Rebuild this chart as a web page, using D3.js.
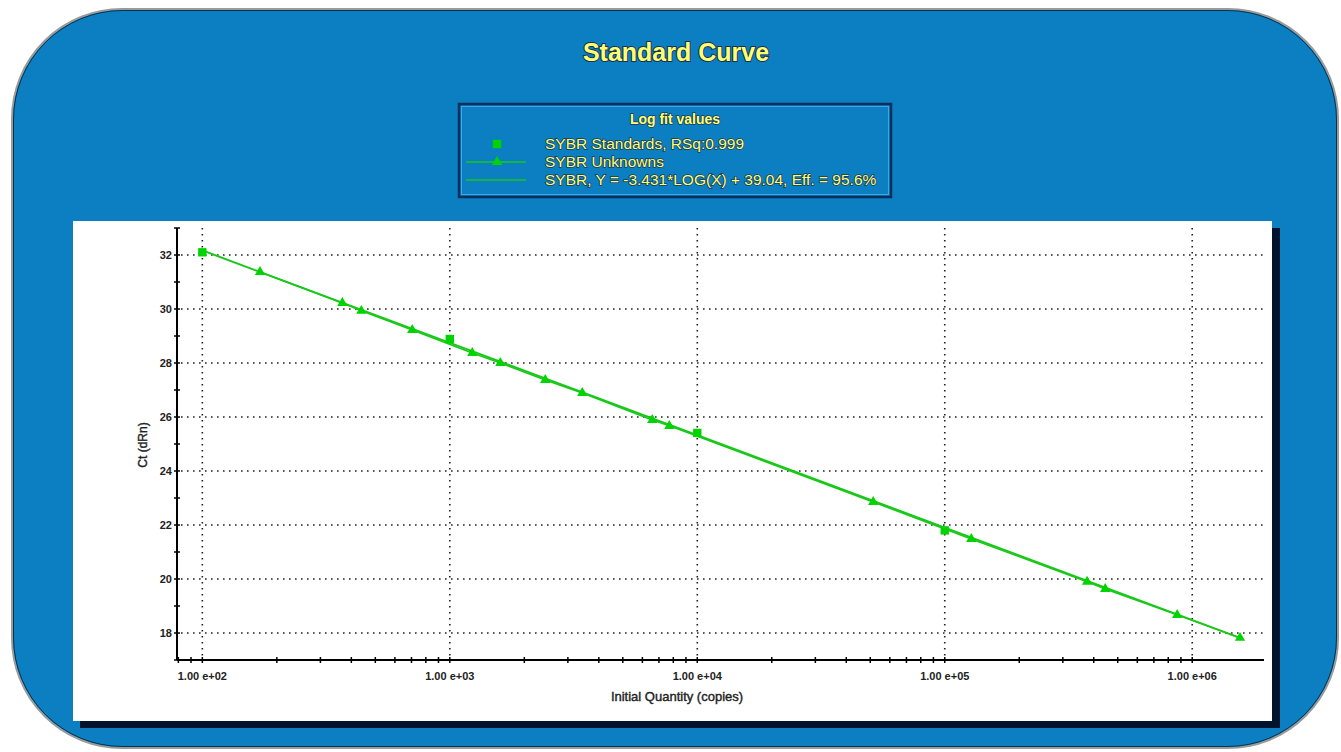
<!DOCTYPE html>
<html>
<head>
<meta charset="utf-8">
<script src="https://cdn.jsdelivr.net/npm/d3@7"></script>
<style>
  body { margin: 0; background: #ffffff; }
  svg { display: block; font-family: "Liberation Sans", Arial, sans-serif; }
</style>
</head>
<body>
<div id="chart"></div>
<script>
// Standard curve - Ct vs initial quantity (log scale)

// standards (squares)
const stdQty = [100, 1000, 10000, 100000];
const stdCt = [32.1, 28.89, 25.41, 21.8];

// unknowns (triangles)
const unkQty = [171, 368, 439, 705, 1233, 1600, 2430, 3430, 6580, 7710, 51400, 128000, 376000, 445000, 869000, 1560000];
const unkCt = [31.37, 30.22, 29.93, 29.22, 28.37, 28.0, 27.37, 26.89, 25.89, 25.67, 22.85, 21.48, 19.9, 19.63, 18.67, 17.82];

// fitted line end points
const fitQty = [100, 1560000];
const fitCt = [32.17, 17.82];

const xTickValues = [1e2, 1e3, 1e4, 1e5, 1e6];
const xTickLabels = ["1.00 e+02", "1.00 e+03", "1.00 e+04", "1.00 e+05", "1.00 e+06"];
const yTickValues = [18, 20, 22, 24, 26, 28, 30, 32];
const yMinorValues = [17, 19, 21, 23, 25, 27, 29, 31, 33];

const legendLabels = [
  "SYBR Standards, RSq:0.999",
  "SYBR Unknowns",
  "SYBR, Y = -3.431*LOG(X) + 39.04, Eff. = 95.6%"
];

const width = 1341, height = 752;
const green = "#19c819";
const markGreen = "#00d400";
const yellow = "#ffff70";

const svg = d3.select("#chart").append("svg")
  .attr("width", width)
  .attr("height", height);

// outer blue frame
svg.append("rect")
  .attr("x", 12).attr("y", 9)
  .attr("width", 1326).attr("height", 739)
  .attr("rx", 110).attr("ry", 110)
  .attr("fill", "#0b7fc1")
  .attr("stroke", "#9a9a9a")
  .attr("stroke-width", 2);
svg.append("rect")
  .attr("x", 13.5).attr("y", 10.5)
  .attr("width", 1323).attr("height", 736)
  .attr("rx", 109).attr("ry", 109)
  .attr("fill", "none")
  .attr("stroke", "#000")
  .attr("stroke-opacity", 0.6)
  .attr("stroke-width", 1);

// title
svg.append("text")
  .attr("x", 676).attr("y", 61)
  .attr("text-anchor", "middle")
  .style("font-size", "25px")
  .style("font-weight", "bold")
  .style("fill", yellow)
  .style("stroke", "#1c2f55")
  .style("stroke-width", 2)
  .style("paint-order", "stroke")
  .text("Standard Curve");

// legend box
const lg = svg.append("g");
lg.append("rect")
  .attr("x", 459).attr("y", 104)
  .attr("width", 432).attr("height", 93)
  .attr("fill", "#0b7fc1")
  .attr("stroke", "#0a2f5c")
  .attr("stroke-width", 2.5);
lg.append("rect")
  .attr("x", 461.5).attr("y", 106.5)
  .attr("width", 427).attr("height", 88)
  .attr("fill", "none")
  .attr("stroke", "#3ea6e0")
  .attr("stroke-width", 1);

const legText = (x, y, s, anchor, weight, size) => lg.append("text")
  .attr("x", x).attr("y", y)
  .attr("text-anchor", anchor)
  .style("font-size", size)
  .style("font-weight", weight)
  .style("fill", yellow)
  .style("stroke", "#1c3a60")
  .style("stroke-width", 1.5)
  .style("paint-order", "stroke")
  .text(s);

legText(675, 124, "Log fit values", "middle", "bold", "14px");
const legY = [144, 162, 180];
legendLabels.forEach((s, i) => legText(545, legY[i] + 5, s, "start", "normal", "15.5px"));

const tri = d3.symbol().type(d3.symbolTriangle).size(46);
const sq = d3.symbol().type(d3.symbolSquare).size(70);

lg.append("path")
  .attr("d", sq())
  .attr("transform", `translate(497,${legY[0]})`)
  .attr("fill", markGreen);
lg.append("line")
  .attr("x1", 466).attr("x2", 526)
  .attr("y1", legY[1]).attr("y2", legY[1])
  .attr("stroke", green).attr("stroke-width", 1.5);
lg.append("path")
  .attr("d", tri())
  .attr("transform", `translate(497,${legY[1]})`)
  .attr("fill", markGreen);
lg.append("line")
  .attr("x1", 466).attr("x2", 526)
  .attr("y1", legY[2]).attr("y2", legY[2])
  .attr("stroke", green).attr("stroke-width", 1.5);

// plot panel with shadow
svg.append("rect")
  .attr("x", 80).attr("y", 228)
  .attr("width", 1200).attr("height", 500)
  .attr("fill", "#02132e");
svg.append("rect")
  .attr("x", 73).attr("y", 221)
  .attr("width", 1199).attr("height", 500)
  .attr("fill", "#ffffff");

// scales
const x = d3.scaleLog().domain([79, 1.95e6]).range([177, 1264]);
const y = d3.scaleLinear().domain([17, 33]).range([660, 228]);

const xMinor = [];
for (let e = 1; e <= 6; e++) {
  for (let m = 1; m <= 9; m++) {
    const v = m * Math.pow(10, e);
    if (v >= x.domain()[0] && v <= x.domain()[1]) xMinor.push(v);
  }
}

// grid
const grid = svg.append("g")
  .attr("stroke", "#222")
  .attr("stroke-width", 1.6)
  .attr("stroke-dasharray", "1.6,4.4");
grid.selectAll(".gy").data(yTickValues).enter().append("line")
  .attr("x1", x.range()[0] + 4).attr("x2", x.range()[1])
  .attr("y1", d => y(d)).attr("y2", d => y(d));
grid.selectAll(".gx").data(xTickValues).enter().append("line")
  .attr("x1", d => x(d)).attr("x2", d => x(d))
  .attr("y1", y.range()[1]).attr("y2", y.range()[0] - 4);

// axes lines
const ax = svg.append("g").attr("stroke", "#000");
ax.append("line")
  .attr("x1", x.range()[0]).attr("x2", x.range()[0])
  .attr("y1", y.range()[1]).attr("y2", y.range()[0])
  .attr("stroke-width", 2);
ax.append("line")
  .attr("x1", x.range()[0]).attr("x2", x.range()[1])
  .attr("y1", y.range()[0]).attr("y2", y.range()[0])
  .attr("stroke-width", 2);

// tick marks (cross the axis)
ax.selectAll(".ty").data(yTickValues.concat(yMinorValues)).enter().append("line")
  .attr("x1", x.range()[0] - 3).attr("x2", x.range()[0] + 3)
  .attr("y1", d => y(d)).attr("y2", d => y(d))
  .attr("stroke-width", 1.5);
ax.selectAll(".tx").data(xMinor).enter().append("line")
  .attr("x1", d => x(d)).attr("x2", d => x(d))
  .attr("y1", y.range()[0] - 3).attr("y2", y.range()[0] + 3)
  .attr("stroke-width", 1.5);

// tick labels
const tickStyle = sel => sel
  .style("font-size", "11px")
  .style("font-weight", "bold")
  .style("fill", "#222");
svg.append("g").selectAll("text").data(yTickValues).enter().append("text")
  .attr("x", x.range()[0] - 5)
  .attr("y", d => y(d) + 4)
  .attr("text-anchor", "end")
  .call(tickStyle)
  .text(d => d);
svg.append("g").selectAll("text").data(xTickValues).enter().append("text")
  .attr("x", d => x(d))
  .attr("y", y.range()[0] + 20)
  .attr("text-anchor", "middle")
  .call(tickStyle)
  .text((d, i) => xTickLabels[i]);

// axis titles
const titleStyle = sel => sel
  .style("font-size", "13px")
  .style("fill", "#222")
  .style("stroke", "#222")
  .style("stroke-width", 0.4);
svg.append("text")
  .attr("transform", "translate(147,445) rotate(-90)")
  .attr("text-anchor", "middle")
  .call(titleStyle)
  .style("font-size", "12px")
  .text("Ct (dRn)");
svg.append("text")
  .attr("x", 677).attr("y", 701)
  .attr("text-anchor", "middle")
  .call(titleStyle)
  .text("Initial Quantity (copies)");

// fit line
const line = d3.line().x(d => x(d[0])).y(d => y(d[1]));
svg.append("path")
  .datum(fitQty.map((q, i) => [q, fitCt[i]]))
  .attr("d", line)
  .attr("fill", "none")
  .attr("stroke", green)
  .attr("stroke-width", 2);

// unknowns line + triangles
const unk = unkQty.map((q, i) => [q, unkCt[i]]);
svg.append("path")
  .datum(unk)
  .attr("d", line)
  .attr("fill", "none")
  .attr("stroke", green)
  .attr("stroke-width", 1.5);
svg.append("g").selectAll("path").data(unk).enter().append("path")
  .attr("d", tri())
  .attr("transform", d => `translate(${x(d[0])},${y(d[1])})`)
  .attr("fill", markGreen);

// standards squares
svg.append("g").selectAll("path").data(stdQty).enter().append("path")
  .attr("d", sq())
  .attr("transform", (d, i) => `translate(${x(d)},${y(stdCt[i])})`)
  .attr("fill", markGreen);
</script>
</body>
</html>
